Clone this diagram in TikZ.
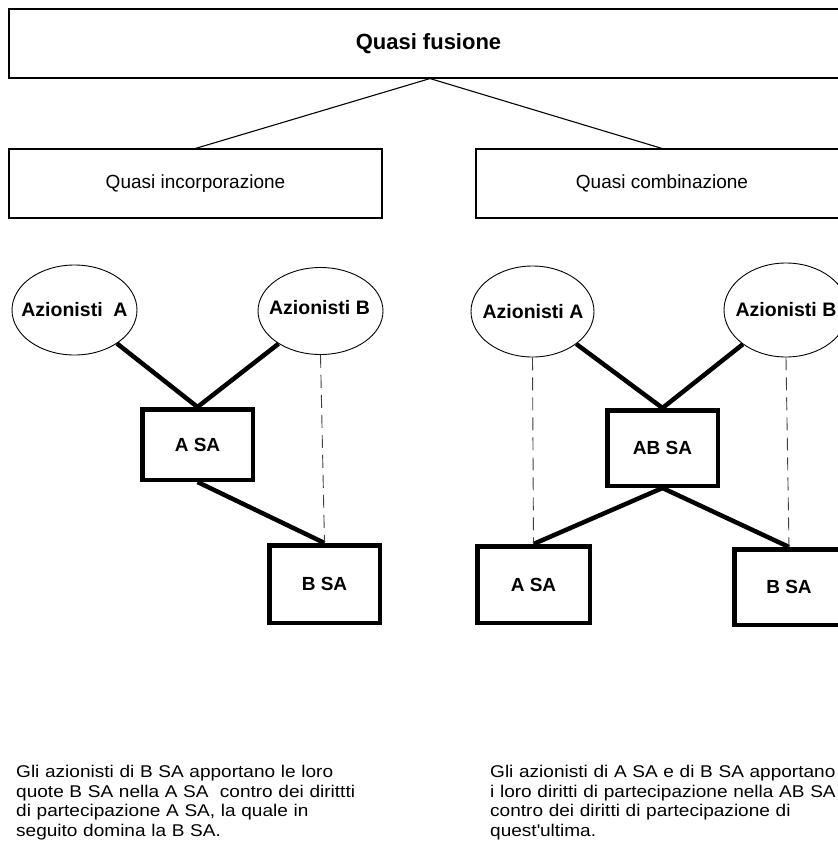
\documentclass[tikz,border=0pt]{standalone}
\usepackage{fontspec}
\setmainfont{Liberation Sans}
\newfontfamily\notefont{Liberation Sans}[FakeStretch=1.12]
\usetikzlibrary{shapes.geometric}

\tikzset{
  topbox/.style={draw, line width=1.1pt, rectangle, inner sep=0pt, minimum height=69pt},
  holder/.style={draw, line width=0.9pt, ellipse, inner sep=0pt},
  holdlabel/.style={inner sep=0pt, font=\fontsize{19.5}{22}\selectfont\bfseries},
  firm/.style={draw, line width=4.5pt, rectangle, inner sep=0pt,
    font=\fontsize{19}{22}\selectfont\bfseries},
  thin link/.style={line width=1.1pt},
  share/.style={line width=4.5pt},
  control/.style={line width=0.9pt, black!75, dash pattern=on 13pt off 7pt},
  note/.style={inner sep=0pt, anchor=north west, align=left, text width=400pt,
    font=\notefont\fontsize{17}{19.5}\selectfont}
}

\begin{document}
\begin{tikzpicture}[x=1pt, y=-1pt]
  \useasboundingbox (0,0) rectangle (838,847);
  \clip (0,0) rectangle (838,847);

  % heading and the two variants
  \node[topbox, minimum width=839pt, font=\fontsize{22}{26}\selectfont\bfseries]
    (fus) at (428.5,43.5) {Quasi fusione};
  \coordinate (apex) at ([xshift=1.5pt]fus.south);
  \node[topbox, minimum width=373pt, font=\fontsize{19}{22}\selectfont]
    (inc) at (195.5,183.5) {Quasi incorporazione};
  \node[topbox, minimum width=372pt, font=\fontsize{19}{22}\selectfont]
    (comb) at (662,183.5) {Quasi combinazione};
  \draw[thin link] (apex) -- (inc.north);
  \draw[thin link] (apex) -- (comb.north);

  % left group: quasi incorporazione
  \node[holder, minimum width=125pt, minimum height=90pt] (hA1) at (74.5,310) {};
  \node[holdlabel] (tA1) at (hA1.center) {Azionisti\ \ A};
  \node[holder, minimum width=125pt, minimum height=87pt] (hB1) at (320.5,311) {};
  \node[holdlabel] (tB1) at (319.5,308) {Azionisti B};
  \node[firm, minimum width=110.5pt, minimum height=70.5pt] (aSA1) at (197.5,444.5) {A SA};
  \node[firm, minimum width=110.5pt, minimum height=77.5pt] (bSA1) at (324.5,584) {B SA};
  \draw[share] (hA1) -- (aSA1.north);
  \draw[share] (hB1) -- (aSA1.north);
  \draw[share] (aSA1.south) -- (bSA1.north);
  \draw[control] (hB1.south) -- (bSA1.north);

  % right group: quasi combinazione
  \node[holder, minimum width=123pt, minimum height=91pt] (hA2) at (532.5,311.5) {};
  \node[holdlabel] (tA2) at (533,312) {Azionisti A};
  \node[holder, minimum width=124pt, minimum height=94pt] (hB2) at (786,310) {};
  \node[holdlabel] (tB2) at (hB2.center) {Azionisti B};
  \node[firm, minimum width=110.5pt, minimum height=75.5pt] (abSA) at (662.5,448) {AB SA};
  \node[firm, minimum width=112.5pt, minimum height=76.5pt] (aSA2) at (533.5,584.5) {A SA};
  \node[firm, minimum width=109.5pt, minimum height=75.5pt] (bSA2) at (789,587) {B SA};
  \draw[share] (hA2) -- (abSA.north);
  \draw[share] (hB2) -- (abSA.north);
  \draw[share] (abSA.south) -- (aSA2.north);
  \draw[share] (abSA.south) -- (bSA2.north);
  \draw[control] (hA2.south) -- (aSA2.north);
  \draw[control] (hB2.south) -- (bSA2.north);

  % explanatory notes
  \node[note] (noteL) at (16,765) {Gli azionisti di B SA apportano le loro\\
    quote B SA nella A SA\ \ contro dei dirittti\\
    di partecipazione A SA, la quale in\\
    seguito domina la B SA.};
  \node[note] (noteR) at (490,765) {Gli azionisti di A SA e di B SA apportano\\
    i loro diritti di partecipazione nella AB SA\\
    contro dei diritti di partecipazione di\\
    quest\textquotesingle ultima.};
\end{tikzpicture}
\end{document}
